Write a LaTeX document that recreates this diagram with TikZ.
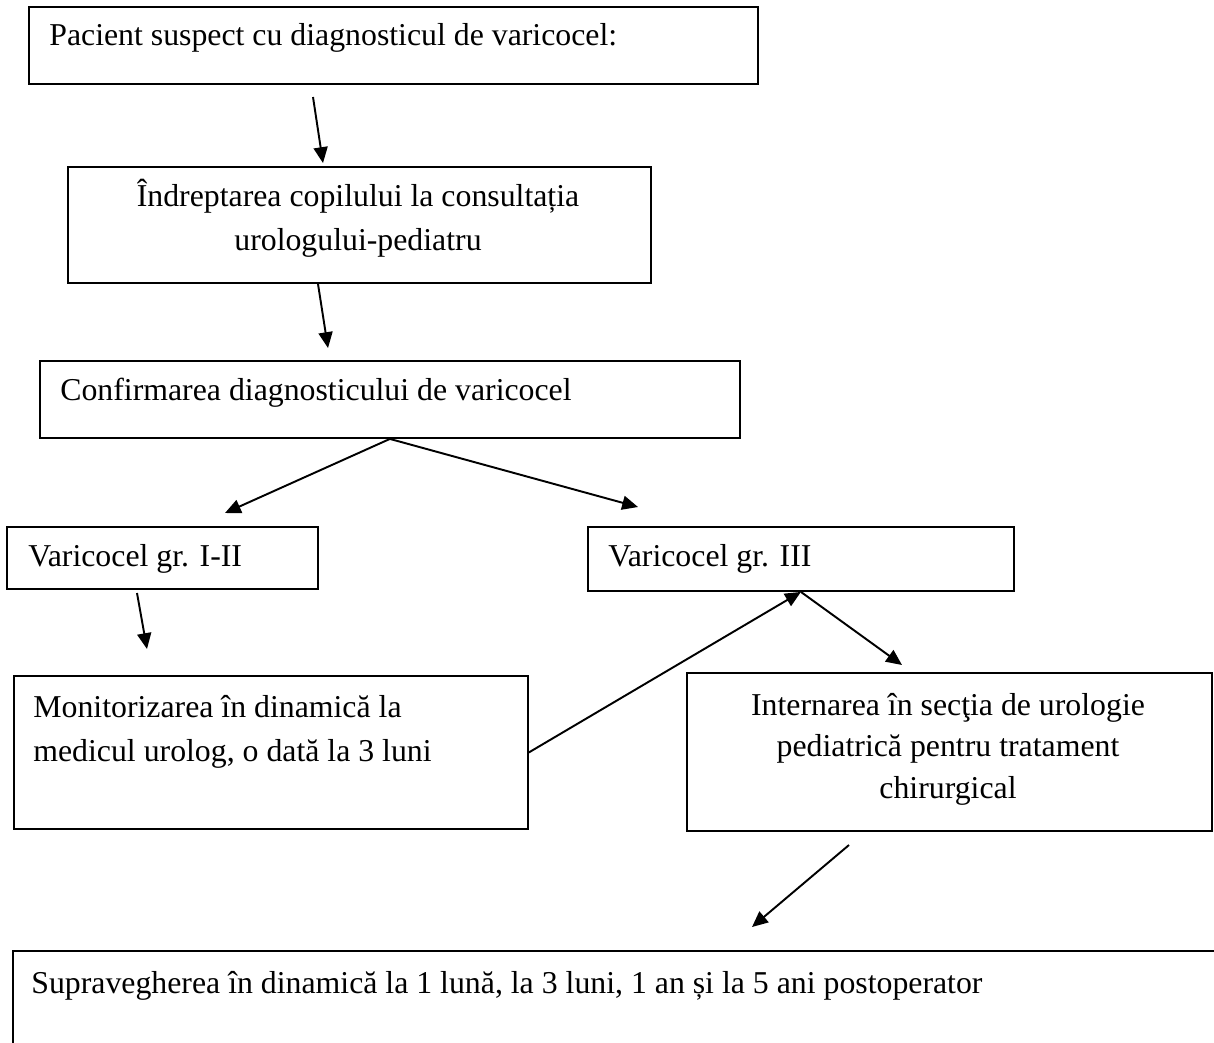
\documentclass[tikz,border=0pt]{standalone}
\usepackage{fontspec}
\setmainfont{Liberation Serif}
\usetikzlibrary{arrows.meta}
\tikzset{
	caseta/.style={draw, line width=1.1pt, inner sep=0pt, anchor=north west},
	textcaseta/.style={inner sep=0pt, font=\fontsize{18.1pt}{25pt}\selectfont},
	sageata/.style={line width=1.1pt, -{Triangle[length=9pt,width=8pt]}}
}

\begin{document}
\begin{tikzpicture}[x=0.02cm, y=-0.02cm]
			\clip (0,0) rectangle (1214,1042);
			\fill[white] (0,0) rectangle (1214,1042);
			
			% casete
			\node[caseta, minimum width=14.58cm, minimum height=1.54cm] (pacient) at (28,6) {};
			\node[caseta, minimum width=11.66cm, minimum height=2.32cm] (indreptare) at (67,166) {};
			\node[caseta, minimum width=14.00cm, minimum height=1.54cm] (confirmare) at (39,360) {};
			\node[caseta, minimum width=6.22cm, minimum height=1.24cm] (grad12) at (6,526) {};
			\node[caseta, minimum width=8.52cm, minimum height=1.28cm] (grad3) at (587,526) {};
			\node[caseta, minimum width=10.28cm, minimum height=3.06cm] (monitorizare) at (13,675) {};
			\node[caseta, minimum width=10.50cm, minimum height=3.16cm] (internare) at (686,672) {};
			\node[caseta, minimum width=24.60cm, minimum height=2.60cm] (supraveghere) at (12,950) {};
			
			% texte
			\node[textcaseta, anchor=base west] (pacient-t) at (49,45) {Pacient suspect cu diagnosticul de varicocel:};
			\node[textcaseta, anchor=north, align=center] (indreptare-t) at (358,179) {Îndreptarea copilului la consultația\\urologului-pediatru};
			\node[textcaseta, anchor=base west] (confirmare-t) at (60,400) {Confirmarea diagnosticului de varicocel};
			\node[textcaseta, anchor=base west] (grad12-t) at (28,566) {Varicocel gr. I-II};
			\node[textcaseta, anchor=base west] (grad3-t) at (608,566) {Varicocel gr. III};
			\node[textcaseta, anchor=north west, align=left] (monitorizare-t) at (33,695) {Monitorizarea în dinamică la\\medicul urolog, o dată la 3 luni};
			\node[textcaseta, anchor=north, align=center, font=\fontsize{18.1pt}{23.5pt}\selectfont] (internare-t) at (948,693) {Internarea în secţia de urologie\\pediatrică pentru tratament\\chirurgical};
			\node[textcaseta, anchor=base west] (supraveghere-t) at (31,993) {Supravegherea în dinamică la 1 lună, la 3 luni, 1 an și la 5 ani postoperator};
			
			% capete libere ale sagetilor
			\coordinate (s1) at (313,97);
			\coordinate (v1) at (323,163);
			\coordinate (s2) at (318,284);
			\coordinate (v2) at (328,348);
			\coordinate (v3) at (225,513);
			\coordinate (v4) at (638,507);
			\coordinate (s5) at (137,593);
			\coordinate (v5) at (147,649);
			\coordinate (v7) at (902,665);
			\coordinate (s8) at (849,845);
			\coordinate (v8) at (752,927);
			
			% sageti
			\draw[sageata] (s1) -- (v1);
			\draw[sageata] (s2) -- (v2);
			\draw[sageata] (confirmare.south) -- (v3);
			\draw[sageata] (confirmare.south) -- (v4);
			\draw[sageata] (s5) -- (v5);
			\draw[sageata] (monitorizare.east) -- (grad3.south);
			\draw[sageata] (grad3.south) -- (v7);
			\draw[sageata] (s8) -- (v8);
		\end{tikzpicture}
\end{document}
